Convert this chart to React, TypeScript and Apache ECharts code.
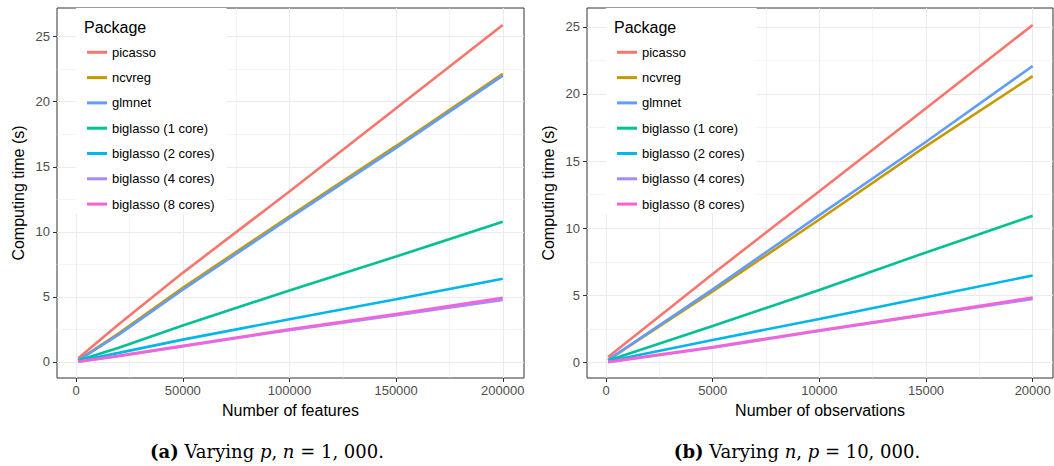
import { useEffect, useRef } from 'react';
import * as echarts from 'echarts';

const seriesNames = ['picasso', 'ncvreg', 'glmnet', 'biglasso (1 core)', 'biglasso (2 cores)', 'biglasso (4 cores)', 'biglasso (8 cores)'];
const seriesColors = ['#F8766D', '#C49A00', '#619CFF', '#00C094', '#00B6EB', '#A58AFF', '#FB61D7'];

// Panel (a): varying p (number of features), n = 1,000
const featuresX = [1000, 20000, 50000, 100000, 150000, 200000];
const aPicasso = [0.28, 2.9, 6.85, 13.1, 19.5, 25.9];
const aNcvreg = [0.15, 2.2, 5.7, 11.2, 16.6, 22.15];
const aGlmnet = [0.12, 2.1, 5.55, 11.05, 16.45, 22.0];
const aBig1 = [0.12, 1.1, 2.8, 5.5, 8.1, 10.78];
const aBig2 = [0.08, 0.7, 1.72, 3.28, 4.82, 6.4];
const aBig4 = [0.02, 0.45, 1.2, 2.45, 3.6, 4.77];
const aBig8 = [0.03, 0.48, 1.25, 2.51, 3.69, 4.94];

// Panel (b): varying n (number of observations), p = 10,000
const obsX = [100, 5000, 10000, 15000, 20000];
const bPicasso = [0.42, 6.6, 12.75, 18.93, 25.14];
const bNcvreg = [0.2, 5.3, 10.65, 16.12, 21.33];
const bGlmnet = [0.2, 5.45, 10.98, 16.44, 22.08];
const bBig1 = [0.15, 2.72, 5.4, 8.2, 10.93];
const bBig2 = [0.1, 1.68, 3.25, 4.86, 6.48];
const bBig4 = [0.02, 1.1, 2.35, 3.55, 4.74];
const bBig8 = [0.05, 1.16, 2.41, 3.6, 4.84];

const yTicks = [0, 5, 10, 15, 20, 25];
const yMinor = [2.5, 7.5, 12.5, 17.5, 22.5];
const featTicks = [0, 50000, 100000, 150000, 200000];
const featMinor = [25000, 75000, 125000, 175000];
const obsTicks = [0, 5000, 10000, 15000, 20000];
const obsMinor = [2500, 7500, 12500, 17500];

const SANS = 'Liberation Sans, Arial, sans-serif';
const SERIF = 'DejaVu Serif, serif';

export default function App() {
  const ref = useRef<HTMLDivElement>(null);
  useEffect(() => {
    if (!ref.current) return;
    const chart = echarts.init(ref.current, null, { renderer: 'svg' });

    const panels = [
      { xs: featuresX, ys: [aPicasso, aNcvreg, aGlmnet, aBig1, aBig2, aBig4, aBig8], xTicks: featTicks, xMinor: featMinor },
      { xs: obsX, ys: [bPicasso, bNcvreg, bGlmnet, bBig1, bBig2, bBig4, bBig8], xTicks: obsTicks, xMinor: obsMinor },
    ];

    const series: any[] = [];
    panels.forEach((p, k) => {
      const major = { width: 1.1, color: '#EBEBEB', type: 'solid' };
      const minor = { width: 0.6, color: '#EDEDED', type: 'solid' };
      series.push({
        type: 'line',
        name: '_grid' + k,
        xAxisIndex: k,
        yAxisIndex: k,
        data: [],
        z: 1,
        silent: true,
        markLine: {
          z: 1,
          silent: true,
          symbol: ['none', 'none'],
          label: { show: false },
          emphasis: { disabled: true },
          animation: false,
          data: [
            ...yMinor.map((v) => ({ yAxis: v, lineStyle: minor })),
            ...p.xMinor.map((v) => ({ xAxis: v, lineStyle: minor })),
            ...yTicks.map((v) => ({ yAxis: v, lineStyle: major })),
            ...p.xTicks.map((v) => ({ xAxis: v, lineStyle: major })),
          ],
        },
      });
      seriesNames.forEach((name, i) => {
        series.push({
          type: 'line',
          name,
          xAxisIndex: k,
          yAxisIndex: k,
          data: p.xs.map((x, j) => [x, p.ys[i][j]]),
          showSymbol: false,
          symbol: 'none',
          z: 2,
          silent: true,
          lineStyle: { width: 2.6, color: seriesColors[i] },
          itemStyle: { color: seriesColors[i] },
        });
      });
    });

    const xAxisBase = (k: number) => {
      const p = panels[k];
      return {
        gridIndex: k,
        type: 'value',
        min: k === 0 ? -8950 : -890,
        max: k === 0 ? 209950 : 20951,
        name: k === 0 ? 'Number of features' : 'Number of observations',
        nameLocation: 'middle',
        nameGap: 24,
        nameTextStyle: { fontSize: 16, color: '#000', fontFamily: SANS },
        axisLine: { show: false, onZero: false },
        axisTick: { show: true, length: 4, customValues: p.xTicks, lineStyle: { color: '#333', width: 1 } },
        axisLabel: { customValues: p.xTicks, formatter: (v: number) => String(v), color: '#4D4D4D', fontSize: 13, margin: 6, fontFamily: SANS },
        splitLine: { show: false },
      };
    };
    const yAxisBase = (k: number) => ({
      gridIndex: k,
      type: 'value',
      min: k === 0 ? -1.23 : -1.15,
      max: k === 0 ? 27.2 : 26.4,
      name: 'Computing time (s)',
      nameLocation: 'middle',
      nameGap: 31,
      nameTextStyle: { fontSize: 16, color: '#000', fontFamily: SANS },
      axisLine: { show: false, onZero: false },
      axisTick: { show: true, length: 4, customValues: yTicks, lineStyle: { color: '#333', width: 1 } },
      axisLabel: { customValues: yTicks, formatter: (v: number) => String(v), color: '#4D4D4D', fontSize: 13, margin: 7, fontFamily: SANS },
      splitLine: { show: false },
    });

    const legendLefts = [76, 606];
    const titleLefts = [84, 614];

    const caption = (x: number, text: string) => ({
      type: 'text',
      x,
      y: 451,
      z: 10,
      style: {
        text,
        align: 'center',
        verticalAlign: 'middle',
        rich: {
          b: { fontFamily: SERIF, fontSize: 18, fontWeight: 'bold', fill: '#000' },
          r: { fontFamily: SERIF, fontSize: 18, fill: '#000' },
          i: { fontFamily: SERIF, fontSize: 18, fontStyle: 'italic', fill: '#000' },
        },
      },
    });

    chart.setOption({
      animation: false,
      backgroundColor: '#fff',
      grid: [
        { left: 57, top: 8, width: 467, height: 370, show: true, borderColor: '#333', borderWidth: 1, backgroundColor: 'transparent' },
        { left: 587, top: 8, width: 466, height: 370, show: true, borderColor: '#333', borderWidth: 1, backgroundColor: 'transparent' },
      ],
      xAxis: [xAxisBase(0), xAxisBase(1)],
      yAxis: [yAxisBase(0), yAxisBase(1)],
      legend: legendLefts.map((left) => ({
        data: seriesNames.map((n) => ({ name: n, icon: 'rect' })),
        orient: 'vertical',
        left,
        top: 8,
        z: 6,
        itemWidth: 20,
        itemHeight: 3,
        itemGap: 9.3,
        padding: [36.3, 12, 2, 11],
        backgroundColor: '#fff',
        selectedMode: false,
        textStyle: { fontSize: 13, lineHeight: 16, color: '#000', fontFamily: SANS },
      })),
      title: titleLefts.map((left) => ({
        text: 'Package',
        left,
        top: 19.5,
        z: 8,
        padding: 0,
        textStyle: { fontSize: 16, fontWeight: 'normal', color: '#000', fontFamily: SANS },
      })),
      graphic: [
        caption(267, '{b|(a)}{r| Varying }{i|p}{r|, }{i|n}{r| = 1, 000.}'),
        caption(797, '{b|(b)}{r| Varying }{i|n}{r|, }{i|p}{r| = 10, 000.}'),
      ],
      series,
    });

    return () => chart.dispose();
  }, []);

  return <div ref={ref} style={{ position: 'absolute', left: 0, top: 0, width: 1054, height: 466, background: '#fff' }} />;
}
